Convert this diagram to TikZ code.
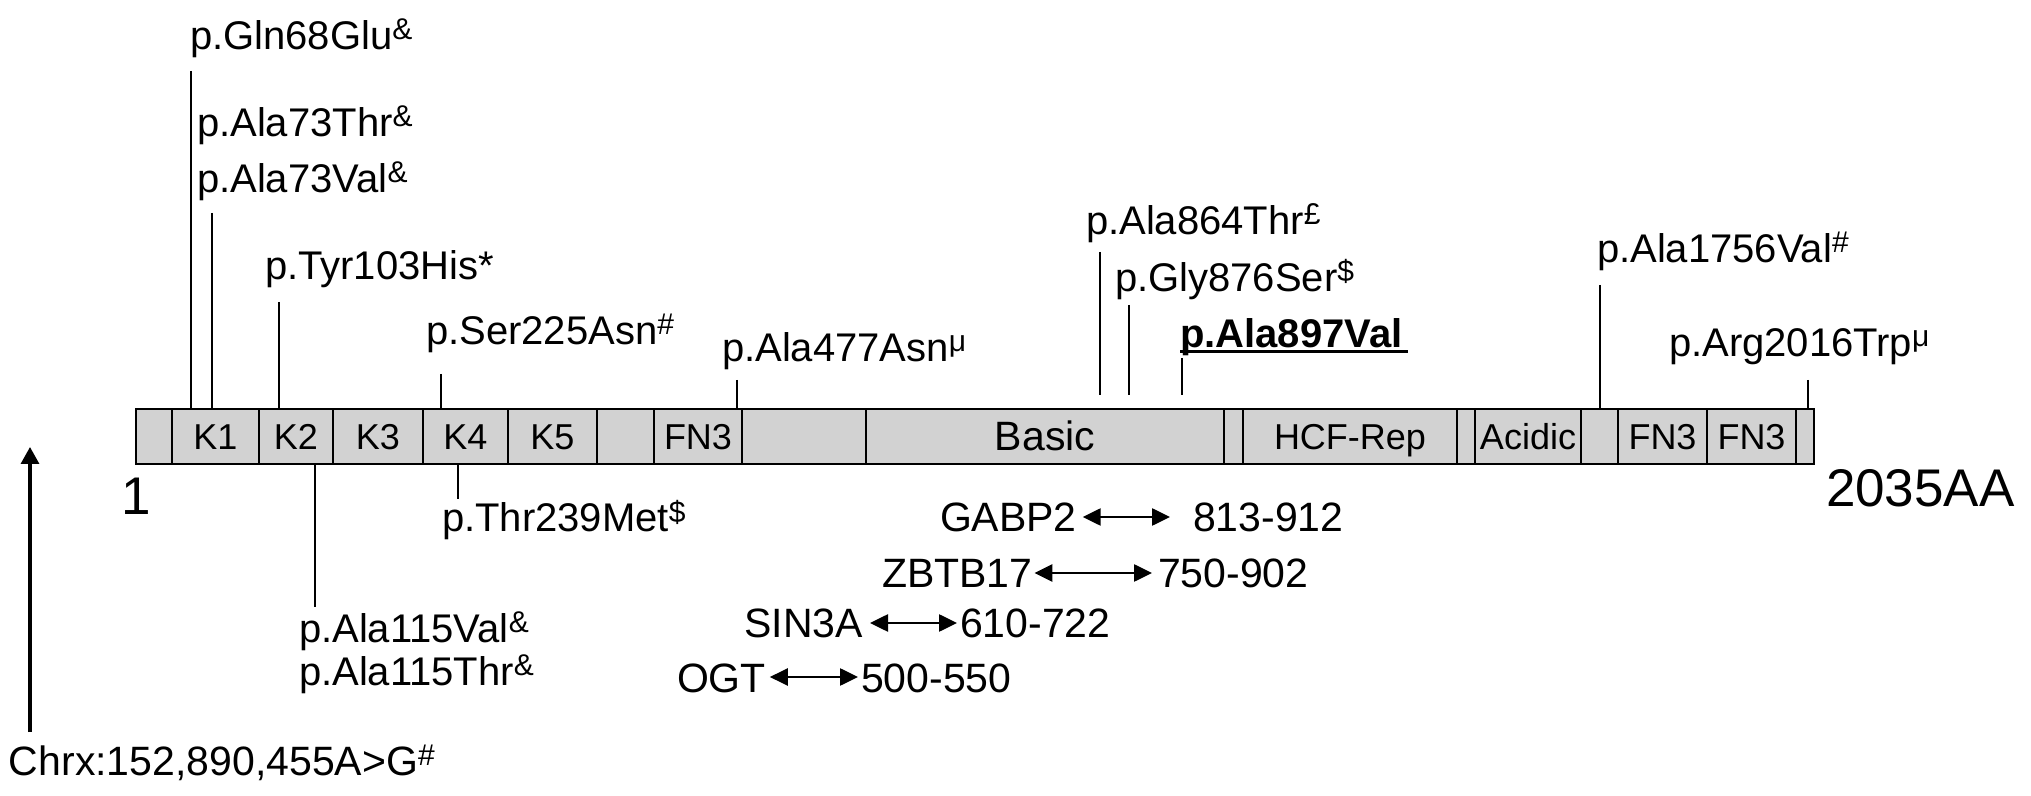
\documentclass[tikz,border=0pt]{standalone}
\usepackage{fontspec}
\setmainfont{Liberation Sans}
\usetikzlibrary{arrows.meta}
\definecolor{barfill}{RGB}{210,210,210}
\newcommand\supx[1]{\raisebox{5pt}{\fontsize{15}{15}\selectfont #1}}
\begin{document}
\begin{tikzpicture}[x=0.5pt,y=-0.5pt,
  seg/.style={draw=black, line width=1.3pt, fill=barfill, rectangle, inner sep=0pt, outer sep=0pt,
    minimum height=27.5pt, text height=13pt, text depth=0pt, font=\fontsize{18}{20}\selectfont},
  mut/.style={anchor=base west, inner sep=0pt, outer sep=0pt, font=\fontsize{20}{24}\selectfont},
  inter/.style={anchor=base west, inner sep=0pt, outer sep=0pt, font=\fontsize{20.5}{24}\selectfont},
  big/.style={anchor=base west, inner sep=0pt, outer sep=0pt, font=\fontsize{26.5}{30}\selectfont},
  mline/.style={line width=1.35pt},
  iarrow/.style={line width=1.3pt, {Triangle[length=9pt,width=8.5pt]}-{Triangle[length=9pt,width=8.5pt]}}]
\useasboundingbox (0,0) rectangle (2031,796);

% protein bar
\node[seg, minimum width=18pt]   (s1)  at (154,436.5) {};
\node[seg, minimum width=43.5pt] (s2)  at (215.5,436.5) {K1};
\node[seg, minimum width=37pt]   (s3)  at (296,436.5) {K2};
\node[seg, minimum width=45pt]   (s4)  at (378,436.5) {K3};
\node[seg, minimum width=42.5pt] (s5)  at (465.5,436.5) {K4};
\node[seg, minimum width=44.5pt] (s6)  at (552.5,436.5) {K5};
\node[seg, minimum width=28.5pt] (s7)  at (625.5,436.5) {};
\node[seg, minimum width=44pt]   (s8)  at (698,436.5) {FN3};
\node[seg, minimum width=62pt]   (s9)  at (804,436.5) {};
\node[seg, minimum width=179pt, font=\fontsize{20.5}{24}\selectfont, text height=14.5pt] (s10) at (1045,436.5) {Basic};
\node[seg, minimum width=9.5pt]  (s11) at (1233.5,436.5) {};
\node[seg, minimum width=107pt]  (s12) at (1350,436.5) {HCF-Rep};
\node[seg, minimum width=9pt]    (s13) at (1466,436.5) {};
\node[seg, minimum width=53pt]   (s14) at (1528,436.5) {Acidic};
\node[seg, minimum width=18.5pt] (s15) at (1599.5,436.5) {};
\node[seg, minimum width=44.5pt] (s16) at (1662.5,436.5) {FN3};
\node[seg, minimum width=44.5pt] (s17) at (1751.5,436.5) {FN3};
\node[seg, minimum width=9pt]    (s18) at (1805,436.5) {};

% end labels
\node[big] (one) at (121,515) {1};
\node[big] (aaend) at (1826,507) {2035AA};

% mutation labels above
\node[mut] (gln68) at (190,50) {p.Gln68Glu\supx{\&}};
\node[mut] (ala73t) at (197,137) {p.Ala73Thr\supx{\&}};
\node[mut] (ala73v) at (197,193) {p.Ala73Val\supx{\&}};
\node[mut] (tyr103) at (265,280) {p.Tyr103His*};
\node[mut] (ser225) at (426,345) {p.Ser225Asn\supx{\#}};
\node[mut] (ala477) at (722,362) {p.Ala477Asn\supx{μ}};
\node[mut] (ala864) at (1086,235) {p.Ala864Thr\supx{£}};
\node[mut] (gly876) at (1115,292) {p.Gly876Ser\supx{\$}};
\node[mut, font=\fontsize{20}{24}\selectfont\bfseries] (ala897) at (1180,348) {p.Ala897Val};
\node[mut] (ala1756) at (1597,263) {p.Ala1756Val\supx{\#}};
\node[mut] (arg2016) at (1669,357) {p.Arg2016Trp\supx{μ}};

% mutation labels below
\node[mut] (thr239) at (442,532) {p.Thr239Met\supx{\$}};
\node[mut] (ala115v) at (299,642) {p.Ala115Val\supx{\&}};
\node[mut] (ala115t) at (299,685) {p.Ala115Thr\supx{\&}};
\node[mut, font=\fontsize{20.5}{24}\selectfont] (chrx) at (9,775) {Chrx:152,890,455A>G\supx{\#}};

\draw[line width=1.5pt] ([yshift=-2pt]ala897.base west) -- ([xshift=3pt,yshift=-2pt]ala897.base east);

% connector tops
\coordinate (t1) at (191,71);
\coordinate (t2) at (212,213);
\coordinate (t3) at (279,302);
\coordinate (t4) at (441,374);
\coordinate (t5) at (737,380);
\coordinate (t6) at (1100,252);
\coordinate (t7) at (1129,305);
\coordinate (t8) at (1182,358);
\coordinate (t9) at (1600,285);
\coordinate (t10) at (1808,380);
\coordinate (b6) at (1100,395);
\coordinate (b7) at (1129,395);
\coordinate (b8) at (1182,395);
\coordinate (d1) at (315,607);
\coordinate (d2) at (458,499);

\draw[mline] (t1) -- (t1 |- s2.north);
\draw[mline] (t2) -- (t2 |- s2.north);
\draw[mline] (t3) -- (t3 |- s3.north);
\draw[mline] (t4) -- (t4 |- s5.north);
\draw[mline] (t5) -- (t5 |- s8.north);
\draw[mline] (t6) -- (b6);
\draw[mline] (t7) -- (b7);
\draw[mline] (t8) -- (b8);
\draw[mline] (t9) -- (t9 |- s15.north);
\draw[mline] (t10) -- (t10 |- s18.north);
\draw[mline] (d1 |- s3.south) -- (d1);
\draw[mline] (d2 |- s5.south) -- (d2);

% genomic arrow
\coordinate (ab) at (30,732);
\coordinate (at) at (30,447);
\draw[line width=1.6pt, -{Triangle[length=8.5pt,width=9pt]}] (ab) -- (at);

% interaction partners
\node[inter] (gabp) at (940,532) {GABP2};
\node[inter] (r1) at (1193,532) {813-912};
\node[inter] (zbtb) at (882,588) {ZBTB17};
\node[inter] (r2) at (1158,588) {750-902};
\node[inter] (sin3a) at (744.5,638) {SIN3A};
\node[inter] (r3) at (960,638) {610-722};
\node[inter] (ogt) at (677,692) {OGT};
\node[inter] (r4) at (861,692) {500-550};

\draw[iarrow] ([xshift=3pt,yshift=7.5pt]gabp.base east) -- ([xshift=-11.5pt,yshift=7.5pt]r1.base west);
\draw[iarrow] ([xshift=1pt,yshift=7.5pt]zbtb.base east) -- ([xshift=-3pt,yshift=7.5pt]r2.base west);
\draw[iarrow] ([xshift=3.5pt,yshift=7.5pt]sin3a.base east) -- ([xshift=-1.5pt,yshift=7.5pt]r3.base west);
\draw[iarrow] ([xshift=2pt,yshift=7.5pt]ogt.base east) -- ([xshift=-1.5pt,yshift=7.5pt]r4.base west);
\end{tikzpicture}
\end{document}
